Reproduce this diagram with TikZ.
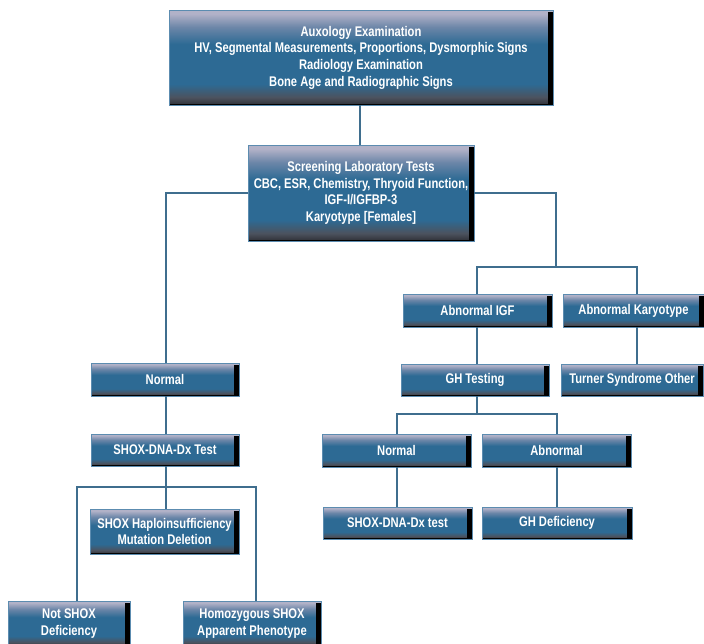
\documentclass[tikz,border=0pt]{standalone}
\usepackage{fontspec}
\setmainfont{Liberation Sans}[FakeStretch=0.8]
\definecolor{bshBot}{HTML}{2E3036}
\definecolor{bshDk}{HTML}{4C525E}
\definecolor{bshMid}{HTML}{2D6A94}
\definecolor{bshLt}{HTML}{6C86A8}
\definecolor{bshTop}{HTML}{B2B2C8}
\definecolor{boxline}{HTML}{5C8CB0}
\definecolor{conn}{HTML}{3F6E8E}
\pgfdeclareverticalshading{boxsh}{100bp}{color(0bp)=(bshBot); color(25bp)=(bshBot); color(29bp)=(bshDk); color(36bp)=(bshMid); color(57bp)=(bshMid); color(66bp)=(bshLt); color(73bp)=(bshTop); color(100bp)=(bshTop)}
\begin{document}
\begin{tikzpicture}[x=1pt,y=-1pt,
  box/.style={draw=boxline, line width=0.8pt, shading=boxsh, text=white,
    font=\fontsize{14}{16.7}\selectfont\bfseries, align=center, inner sep=0pt,
    path picture={
      \fill[black] ([xshift=-5pt,yshift=-2pt]path picture bounding box.north east) rectangle (path picture bounding box.south east);
      \fill[black] (path picture bounding box.south west) rectangle ([yshift=1.5pt]path picture bounding box.south east);
    }},
  link/.style={draw=conn, line width=1.2pt}]
\useasboundingbox (0,0) rectangle (704,643);

\node[box, minimum width=384pt, minimum height=95pt] (top) at (361,57.5)
  {Auxology Examination\\HV, Segmental Measurements, Proportions, Dysmorphic Signs\\Radiology Examination\\Bone Age and Radiographic Signs};
\node[box, minimum width=226pt, minimum height=96pt] (screen) at (361,193)
  {Screening Laboratory Tests\\CBC, ESR, Chemistry, Thryoid Function,\\IGF-I/IGFBP-3\\Karyotype [Females]};

\node[box, minimum width=148pt, minimum height=33pt] (normL) at (165,379.5) {Normal};
\node[box, minimum width=148pt, minimum height=32pt] (shoxtest) at (165,450) {SHOX-DNA-Dx Test};
\node[box, minimum width=149pt, minimum height=45pt] (haplo) at (164.5,531.5) {SHOX Haploinsufficiency\\Mutation Deletion};
\node[box, minimum width=122pt, minimum height=45pt] (notshox) at (69,623.5) {Not SHOX\\Deficiency};
\node[box, minimum width=138pt, minimum height=45pt] (homo) at (252,623.5) {Homozygous SHOX\\Apparent Phenotype};

\node[box, minimum width=149pt, minimum height=33pt] (abnIGF) at (477.5,310.5) {Abnormal IGF};
\node[box, minimum width=141pt, minimum height=33pt] (abnKar) at (633.5,310.5) {Abnormal Karyotype};
\node[box, minimum width=148pt, minimum height=32pt] (ghtest) at (475,380) {GH Testing};
\node[box, minimum width=142pt, minimum height=32pt] (turner) at (632,380) {Turner Syndrome Other};
\node[box, minimum width=149pt, minimum height=33pt] (normR) at (396.5,450.5) {Normal};
\node[box, minimum width=149pt, minimum height=33pt] (abn) at (556.5,450.5) {Abnormal};
\node[box, minimum width=149pt, minimum height=32pt] (shoxtest2) at (397.5,523) {SHOX-DNA-Dx test};
\node[box, minimum width=150pt, minimum height=32pt] (ghdef) at (557,523) {GH Deficiency};

\coordinate (jR) at (556,267);
\coordinate (jGH) at (477,414);
\coordinate (jS) at (166,487);

\draw[link] (top.south -| 360,0) -- (screen.north -| 360,0);
\draw[link] (screen.west) -| (normL.north -| 166,0);
\draw[link] (screen.east) -| (jR);
\draw[link] (abnIGF.north -| 477,0) |- (jR) -| (abnKar.north -| 637,0);
\draw[link] (abnIGF.south -| 477,0) -- (ghtest.north -| 477,0);
\draw[link] (abnKar.south -| 637,0) -- (turner.north -| 637,0);
\draw[link] (ghtest.south -| 477,0) -- (jGH);
\draw[link] (normR.north -| 397,0) |- (jGH) -| (abn.north -| 557,0);
\draw[link] (normR.south -| 397,0) -- (shoxtest2.north -| 397,0);
\draw[link] (abn.south -| 557,0) -- (ghdef.north -| 557,0);
\draw[link] (normL.south -| 166,0) -- (shoxtest.north -| 166,0);
\draw[link] (shoxtest.south -| 166,0) -- (haplo.north -| 166,0);
\draw[link] (notshox.north -| 77,0) |- (jS) -| (homo.north -| 256,0);
\end{tikzpicture}
\end{document}
